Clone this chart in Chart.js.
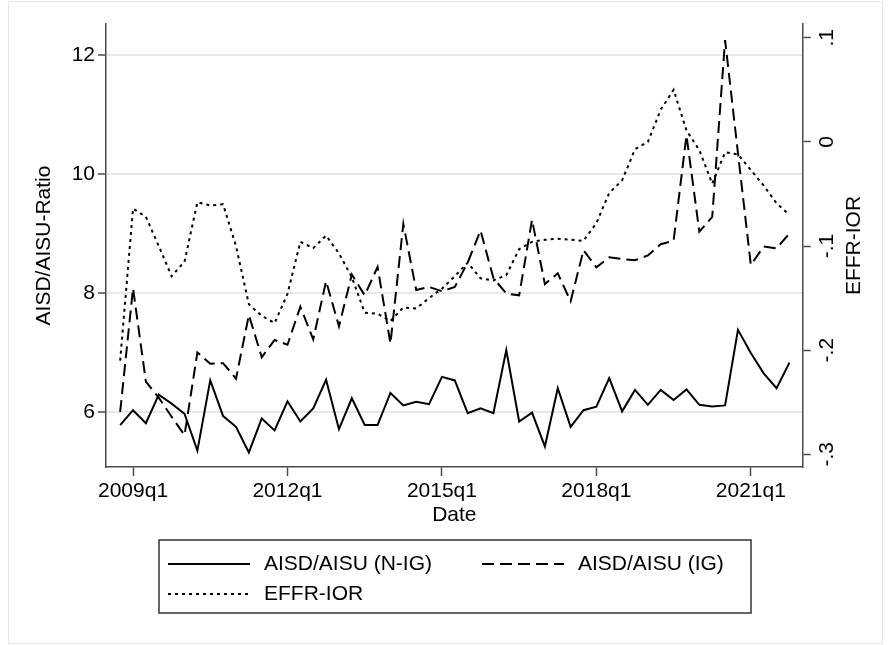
<!DOCTYPE html>
<html>
<head>
<meta charset="utf-8">
<title>AISD/AISU ratio and EFFR-IOR</title>
<script src="https://cdn.jsdelivr.net/npm/chart.js@4.4.1/dist/chart.umd.min.js"></script>
<style>
  html, body { margin: 0; padding: 0; background: #fff; }
  #wrap { width: 891px; height: 645px; position: relative; }
</style>
</head>
<body>
<div id="wrap"><canvas id="myChart"></canvas></div>
<script>
// quarterly observations, 2008q4 .. 2021q4
const quarters = [
  '2008q4',
  '2009q1','2009q2','2009q3','2009q4','2010q1','2010q2','2010q3','2010q4',
  '2011q1','2011q2','2011q3','2011q4','2012q1','2012q2','2012q3','2012q4',
  '2013q1','2013q2','2013q3','2013q4','2014q1','2014q2','2014q3','2014q4',
  '2015q1','2015q2','2015q3','2015q4','2016q1','2016q2','2016q3','2016q4',
  '2017q1','2017q2','2017q3','2017q4','2018q1','2018q2','2018q3','2018q4',
  '2019q1','2019q2','2019q3','2019q4','2020q1','2020q2','2020q3','2020q4',
  '2021q1','2021q2','2021q3','2021q4'
];

const ratioNonIG = [
  5.78,
  6.03, 5.81, 6.29, 6.14, 5.97, 5.35, 6.53, 5.93,
  5.75, 5.32, 5.89, 5.69, 6.18, 5.84, 6.06, 6.54,
  5.71, 6.23, 5.78, 5.78, 6.32, 6.11, 6.17, 6.13,
  6.59, 6.53, 5.98, 6.06, 5.98, 7.04, 5.84, 5.99,
  5.42, 6.40, 5.75, 6.03, 6.09, 6.57, 6.01, 6.37,
  6.12, 6.37, 6.20, 6.38, 6.12, 6.09, 6.11, 7.38,
  6.99, 6.65, 6.40, 6.83
];

const ratioIG = [
  6.00,
  8.08, 6.51, 6.24, 5.92, 5.61, 7.00, 6.81, 6.82,
  6.56, 7.63, 6.92, 7.21, 7.13, 7.77, 7.22, 8.20,
  7.44, 8.31, 7.96, 8.44, 7.15, 9.16, 8.05, 8.10,
  8.03, 8.10, 8.51, 9.05, 8.25, 7.99, 7.96, 9.23,
  8.15, 8.33, 7.86, 8.72, 8.43, 8.60, 8.57, 8.55,
  8.63, 8.82, 8.88, 10.65, 9.03, 9.28, 12.25, 10.35,
  8.47, 8.78, 8.75, 9.00
];

const effrIor = [
  -0.210,
  -0.064, -0.072, -0.100, -0.129, -0.115, -0.058, -0.061, -0.060,
  -0.100, -0.156, -0.167, -0.174, -0.146, -0.096, -0.102, -0.090,
  -0.107, -0.130, -0.164, -0.165, -0.172, -0.159, -0.160, -0.150,
  -0.141, -0.129, -0.116, -0.131, -0.133, -0.128, -0.103, -0.096,
  -0.094, -0.093, -0.094, -0.095, -0.078, -0.049, -0.037, -0.007,
  0.000, 0.031, 0.050, 0.011, -0.008, -0.040, -0.010, -0.012,
  -0.027, -0.042, -0.059, -0.070
];

const seriesLabels = ['AISD/AISU (N-IG)', 'AISD/AISU (IG)', 'EFFR-IOR'];
const xTickLabels = ['2009q1', '2012q1', '2015q1', '2018q1', '2021q1'];
const leftTicks = [6, 8, 10, 12];
const rightTicks = [-0.3, -0.2, -0.1, 0, 0.1];
const rightTickLabels = ['-.3', '-.2', '-.1', '0', '.1'];
const leftTitle = 'AISD/AISU-Ratio';
const rightTitle = 'EFFR-IOR';
const xTitle = 'Date';

// quarter string -> quarters since 2009q1
function qIndex(q) {
  const [y, n] = q.split('q').map(Number);
  return (y - 2009) * 4 + (n - 1);
}
function points(values) {
  return values.map((v, i) => ({ x: qIndex(quarters[i]), y: v }));
}

const FONT = "'Liberation Sans', Arial, Helvetica, sans-serif";
const FS = 21;
const AXIS = '#4a4a4a';
Chart.defaults.font.family = FONT;
Chart.defaults.color = '#000';

const background = {
  id: 'background',
  beforeDraw(chart) {
    const ctx = chart.ctx;
    ctx.save();
    ctx.fillStyle = '#fff';
    ctx.fillRect(0, 0, chart.width, chart.height);
    ctx.strokeStyle = '#e6e6e6';
    ctx.lineWidth = 1;
    ctx.strokeRect(8.5, 1.5, chart.width - 17, chart.height - 3);
    ctx.restore();
  }
};

const rightAxisTitle = {
  id: 'rightAxisTitle',
  afterDraw(chart) {
    const a = chart.chartArea;
    const ctx = chart.ctx;
    ctx.save();
    ctx.translate(854, (a.top + a.bottom) / 2);
    ctx.rotate(-Math.PI / 2);
    ctx.font = FS + 'px ' + FONT;
    ctx.fillStyle = '#000';
    ctx.textAlign = 'center';
    ctx.textBaseline = 'middle';
    ctx.fillText(rightTitle, 0, 0);
    ctx.restore();
  }
};

const boxedLegend = {
  id: 'boxedLegend',
  afterDraw(chart) {
    const ctx = chart.ctx;
    ctx.save();
    ctx.strokeStyle = '#333';
    ctx.lineWidth = 1.5;
    ctx.strokeRect(159, 540, 592, 73);
    const slots = [[168, 564], [482, 564], [168, 594]];
    ctx.font = FS + 'px ' + FONT;
    ctx.fillStyle = '#000';
    ctx.textBaseline = 'middle';
    chart.data.datasets.forEach((ds, i) => {
      const [x, y] = slots[i];
      ctx.beginPath();
      ctx.setLineDash(ds.borderDash || []);
      ctx.lineWidth = ds.borderWidth;
      ctx.strokeStyle = ds.borderColor;
      ctx.moveTo(x, y);
      ctx.lineTo(x + 82, y);
      ctx.stroke();
      ctx.setLineDash([]);
      ctx.fillText(ds.label, x + 96, y);
    });
    ctx.restore();
  }
};

const lineStyle = { borderColor: '#000', borderWidth: 2, pointRadius: 0, tension: 0, fill: false };

const ctx = document.getElementById('myChart').getContext('2d');
const myChart = new Chart(ctx, {
  type: 'line',
  data: {
    datasets: [
      Object.assign({ label: seriesLabels[0], data: points(ratioNonIG), yAxisID: 'y' }, lineStyle),
      Object.assign({ label: seriesLabels[1], data: points(ratioIG), yAxisID: 'y', borderDash: [12, 6] }, lineStyle),
      Object.assign({ label: seriesLabels[2], data: points(effrIor), yAxisID: 'y1', borderDash: [3, 4] }, lineStyle)
    ]
  },
  options: {
    responsive: true,
    maintainAspectRatio: false,
    animation: false,
    layout: { padding: { left: 0, right: 0, top: 24, bottom: 115 } },
    plugins: {
      legend: { display: false },
      tooltip: { enabled: false }
    },
    scales: {
      x: {
        type: 'linear',
        position: 'bottom',
        min: -2.1,
        max: 52.03,
        afterBuildTicks: s => { s.ticks = xTickLabels.map(l => ({ value: qIndex(l) })); },
        afterFit: s => { s.height = 63; },
        grid: { drawOnChartArea: false, drawTicks: true, tickLength: 9, tickColor: AXIS, tickWidth: 1.5 },
        border: { display: true, color: AXIS, width: 1.5 },
        ticks: {
          autoSkip: false, maxRotation: 0, padding: 3,
          font: { size: FS }, color: '#000',
          callback: (v, i) => xTickLabels[i]
        },
        title: { display: true, text: xTitle, font: { size: FS }, color: '#000', padding: { top: 0, bottom: 2 } }
      },
      y: {
        type: 'linear',
        position: 'left',
        min: 5.075,
        max: 12.521,
        afterBuildTicks: s => { s.ticks = leftTicks.map(v => ({ value: v })); },
        afterFit: s => { s.width = 106; },
        grid: { color: '#e8e8e8', lineWidth: 2, drawTicks: true, tickLength: 8, tickColor: AXIS, tickWidth: 1.5 },
        border: { display: true, color: AXIS, width: 1.5 },
        ticks: { padding: 3, font: { size: FS }, color: '#000' },
        title: { display: true, text: leftTitle, font: { size: FS }, color: '#000', padding: { top: 32, bottom: 0 } }
      },
      y1: {
        type: 'linear',
        position: 'right',
        min: -0.3122,
        max: 0.1132,
        afterBuildTicks: s => { s.ticks = rightTicks.map(v => ({ value: v })); },
        afterFit: s => { s.width = 88.3; },
        grid: { drawOnChartArea: false, drawTicks: true, tickLength: 8, tickColor: AXIS, tickWidth: 1.5 },
        border: { display: true, color: AXIS, width: 1.5 },
        ticks: {
          minRotation: 90, maxRotation: 90, crossAlign: 'center', padding: 4,
          font: { size: FS }, color: '#000',
          callback: (v, i) => rightTickLabels[i]
        }
      }
    }
  },
  plugins: [background, rightAxisTitle, boxedLegend]
});
</script>
</body>
</html>
